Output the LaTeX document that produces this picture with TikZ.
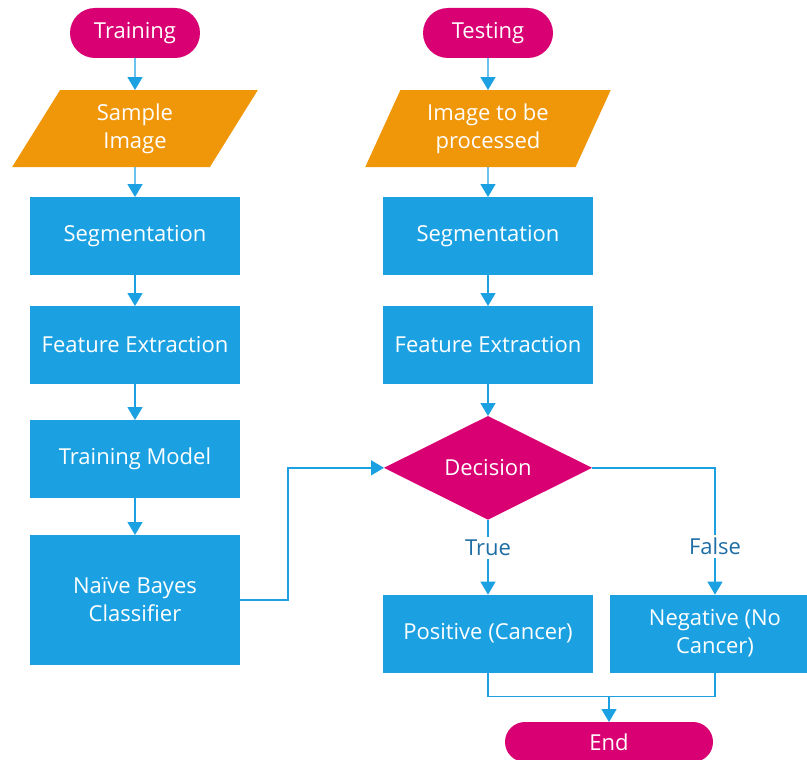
\documentclass[tikz,border=0pt]{standalone}
\usepackage{fontspec}
\setmainfont{Open Sans}
\usetikzlibrary{arrows.meta, shapes.geometric, positioning}
\definecolor{flowblue}{RGB}{27,161,226}
\definecolor{flowpink}{RGB}{216,0,115}
\definecolor{floworange}{RGB}{240,150,9}
\definecolor{labelblue}{RGB}{30,110,165}

\begin{document}
\begin{tikzpicture}[x=1pt, y=-1pt,
  every node/.style={font=\fontsize{22}{28}\selectfont, text=white, align=center, inner sep=0pt, outer sep=0pt},
  term/.style={rectangle, rounded corners=25pt, fill=flowpink, minimum width=130pt, minimum height=50pt},
  io/.style={trapezium, trapezium left angle=64, trapezium right angle=116, trapezium stretches=true, fill=floworange, minimum width=246pt, minimum height=77pt},
  proc/.style={rectangle, fill=flowblue, minimum width=210pt, minimum height=78pt},
  choice/.style={diamond, fill=flowpink, minimum width=208pt, minimum height=102pt},
  tag/.style={text=labelblue, fill=white, inner sep=3pt},
  arr/.style={draw=flowblue, line width=1.4pt, -{Triangle[length=13pt, width=15pt]}},
  link/.style={draw=flowblue, line width=1.4pt}]
                    \useasboundingbox (0,0) rectangle (807,760);
                    \node[term] (train) at (135,33) {Training};
                    \node[io, below=32pt of train] (sample) {Sample\\Image};
                    \node[proc, below=30pt of sample] (seg1) {Segmentation};
                    \node[proc, below=31pt of seg1] (feat1) {Feature Extraction};
                    \node[proc, below=36pt of feat1] (model) {Training Model};
                    \node[proc, below=37pt of model, minimum height=130pt] (bayes) {Naïve Bayes\\Classifier};
                    \node[term] (test) at (488,33) {Testing};
                    \node[io, below=32pt of test] (input) {Image to be\\processed};
                    \node[proc, below=30pt of input] (seg2) {Segmentation};
                    \node[proc, below=31pt of seg2] (feat2) {Feature Extraction};
                    \node[choice, below=32pt of feat2] (dec) {Decision};
                    \node[proc, below=75pt of dec] (pos) {Positive (Cancer)};
                    \node[proc, right=17pt of pos] (neg) {Negative (No\\Cancer)};
                    \node[term, minimum width=208pt, minimum height=40pt, rounded corners=20pt] (finish) at (609,742) {End};
                    \coordinate (join) at ([yshift=-24pt]pos.south -| finish.north);
                    \draw[arr] (train) -- (sample);
                    \draw[arr] (sample) -- (seg1);
                    \draw[arr] (seg1) -- (feat1);
                    \draw[arr] (feat1) -- (model);
                    \draw[arr] (model) -- (bayes);
                    \draw[arr] (test) -- (input);
                    \draw[arr] (input) -- (seg2);
                    \draw[arr] (seg2) -- (feat2);
                    \draw[arr] (feat2) -- (dec);
                    \draw[arr] (bayes.east) -- ++(48,0) |- (dec.west);
                    \draw[arr] (dec.south) -- node[tag, pos=0.38]{True} (pos.north);
                    \draw[arr] (dec.east) -| node[tag, pos=0.81]{False} (neg.north);
                    \draw[link] (pos.south) -- ++(0,24) -| (neg.south);
                    \draw[arr] (join) -- (finish);
                \end{tikzpicture}
\end{document}
